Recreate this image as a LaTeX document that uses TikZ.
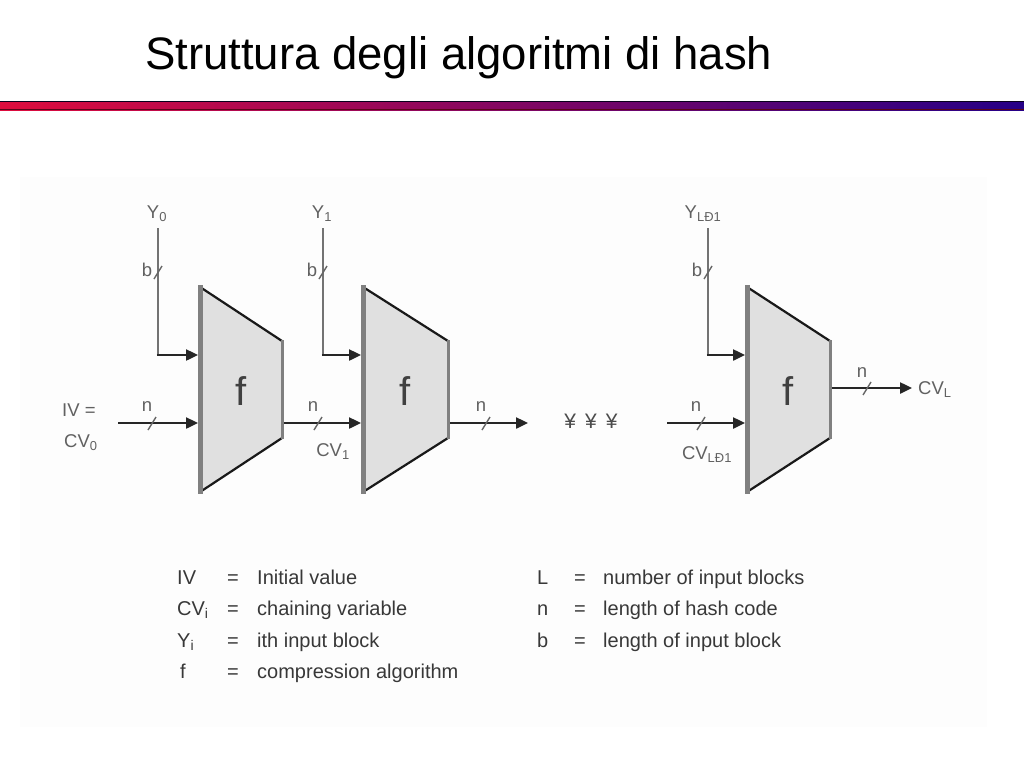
\documentclass[tikz,border=0pt]{standalone}
\usepackage{fontspec}
\setmainfont{Liberation Sans}
\usetikzlibrary{arrows.meta}
\definecolor{barL}{RGB}{222,12,62}
\definecolor{barR}{RGB}{38,0,135}
\definecolor{blockfill}{RGB}{224,224,224}
\definecolor{panel}{RGB}{253,253,253}
\newcommand\hblock[3]{%
  \fill[blockfill] (#2,287) -- (#3,341) -- (#3,438) -- (#2,492) -- cycle;
  \draw[edgeline] (#2,287) -- (#3,341) (#3,438) -- (#2,492);
  \draw[line width=5pt, black!50] (#2,285) -- (#2,494);
  \draw[line width=3pt, black!50] (#3,340) -- (#3,439);
  \node[ffont] (#1) at ({(#2+#3)/2},391) {f};
}
\begin{document}
\begin{tikzpicture}[x=1pt,y=-1pt,
  lbl/.style={text=black!62, font=\fontsize{18.5}{20}\selectfont, inner sep=0pt},
  leg/.style={text=black!78, font=\fontsize{20}{22}\selectfont, inner sep=0pt, anchor=base west},
  ffont/.style={text=black!75, font=\fontsize{40}{44}\selectfont, inner sep=0pt},
  edgeline/.style={draw=black!90, line width=2.2pt},
  wire/.style={draw=black!85, line width=2.4pt},
  ywire/.style={draw=black!55, line width=2.4pt},
  arr/.style={-{Triangle[length=12pt,width=11pt]}},
  tick/.style={draw=black!60, line width=1.4pt},
]
\fill[white] (0,0) rectangle (1024,768);
\useasboundingbox (0,0) rectangle (1024,768);
% panel
\fill[panel] (20,177) rectangle (987,727);
% title
\node[anchor=base west, inner sep=0pt, font=\fontsize{45.5}{50}\selectfont] (title) at (145,69) {Struttura degli algoritmi di hash};
% gradient bar
\shade[left color=barL, right color=barR] (0,101) rectangle (1024,110);
\draw[line width=1pt, black!80!barR] (0,101.5) -- (1024,101.5);
\draw[line width=0.8pt, black!60!barL] (0,109.5) -- (1024,109.5);

% blocks
\hblock{f1}{200}{282}
\hblock{f2}{363}{448}
\hblock{f3}{747}{830}

% block input coordinates
\coordinate (f1y) at (198,355);
\coordinate (f1x) at (198,423);
\coordinate (f2y) at (361,355);
\coordinate (f2x) at (361,423);
\coordinate (f3y) at (745,355);
\coordinate (f3x) at (745,423);
\coordinate (f1o) at (284,423);
\coordinate (f2o) at (450,423);
\coordinate (f3o) at (832,388);

% Y inputs
\node[lbl] (y0) at (157,214) {Y\textsubscript{0}};
\node[lbl] (y1) at (322,214) {Y\textsubscript{1}};
\node[lbl] (y2) at (703,214) {Y\textsubscript{LÐ1}};
\coordinate (c0) at (158,355);
\coordinate (c1) at (323,355);
\coordinate (c2) at (708,355);
\draw[ywire] (y0.south -| c0) ++(0,6) -- (c0);
\draw[ywire] (y1.south -| c1) ++(0,6) -- (c1);
\draw[ywire] (y2.south -| c2) ++(0,6) -- (c2);
\draw[wire,arr] ([xshift=-1.2pt]c0) -- (f1y);
\draw[wire,arr] ([xshift=-1.2pt]c1) -- (f2y);
\draw[wire,arr] ([xshift=-1.2pt]c2) -- (f3y);
% b labels and ticks
\node[lbl] (b0) at (147,270) {b};
\node[lbl] (b1) at (312,270) {b};
\node[lbl] (b2) at (697,270) {b};
\draw[tick] (154,279) -- (162,266);
\draw[tick] (319,279) -- (327,266);
\draw[tick] (704,279) -- (712,266);

% chaining inputs / outputs
\node[lbl, anchor=west] (iv) at (62,410) {IV =};
\node[lbl, anchor=west] (cv0) at (64,443) {CV\textsubscript{0}};
\coordinate (s0) at (118,423);
\draw[wire,arr] (s0) -- (f1x);
\draw[wire,arr] (f1o) -- (f2x);
\coordinate (e2) at (528,423);
\draw[wire,arr] (f2o) -- (e2);
\coordinate (s3) at (667,423);
\draw[wire,arr] (s3) -- (f3x);
\coordinate (e3) at (912,388);
\draw[wire,arr] (f3o) -- (e3);

\node[lbl] (n0) at (147,407) {n};
\node[lbl] (n1) at (313,407) {n};
\node[lbl] (n2) at (481,407) {n};
\node[lbl] (n3) at (696,407) {n};
\node[lbl] (n4) at (862,373) {n};
\draw[tick] (148,430) -- (156,417);
\draw[tick] (314,430) -- (322,417);
\draw[tick] (482,430) -- (490,417);
\draw[tick] (697,430) -- (705,417);
\draw[tick] (863,395) -- (871,382);

\node[lbl] (cv1) at (333,452) {CV\textsubscript{1}};
\node[lbl] (cvl1) at (707,455) {CV\textsubscript{LÐ1}};
\node[lbl, anchor=west] (cvl) at (918,390) {CV\textsubscript{L}};
\node[lbl, font=\fontsize{21}{23}\selectfont, text=black!70] (dots) at (591,421) {¥\hspace{9pt}¥\hspace{9pt}¥};

% legend
\node[leg] (l1a) at (177,584) {IV};
\node[leg] (l1b) at (227,584) {=};
\node[leg] (l1c) at (257,584) {Initial value};
\node[leg] (l2a) at (177,615) {CV\textsubscript{i}};
\node[leg] (l2b) at (227,615) {=};
\node[leg] (l2c) at (257,615) {chaining variable};
\node[leg] (l3a) at (177,647) {Y\textsubscript{i}};
\node[leg] (l3b) at (227,647) {=};
\node[leg] (l3c) at (257,647) {ith input block};
\node[leg] (l4a) at (180,678) {f};
\node[leg] (l4b) at (227,678) {=};
\node[leg] (l4c) at (257,678) {compression algorithm};
\node[leg] (r1a) at (537,584) {L};
\node[leg] (r1b) at (574,584) {=};
\node[leg] (r1c) at (603,584) {number of input blocks};
\node[leg] (r2a) at (537,615) {n};
\node[leg] (r2b) at (574,615) {=};
\node[leg] (r2c) at (603,615) {length of hash code};
\node[leg] (r3a) at (537,647) {b};
\node[leg] (r3b) at (574,647) {=};
\node[leg] (r3c) at (603,647) {length of input block};
\end{tikzpicture}
\end{document}
